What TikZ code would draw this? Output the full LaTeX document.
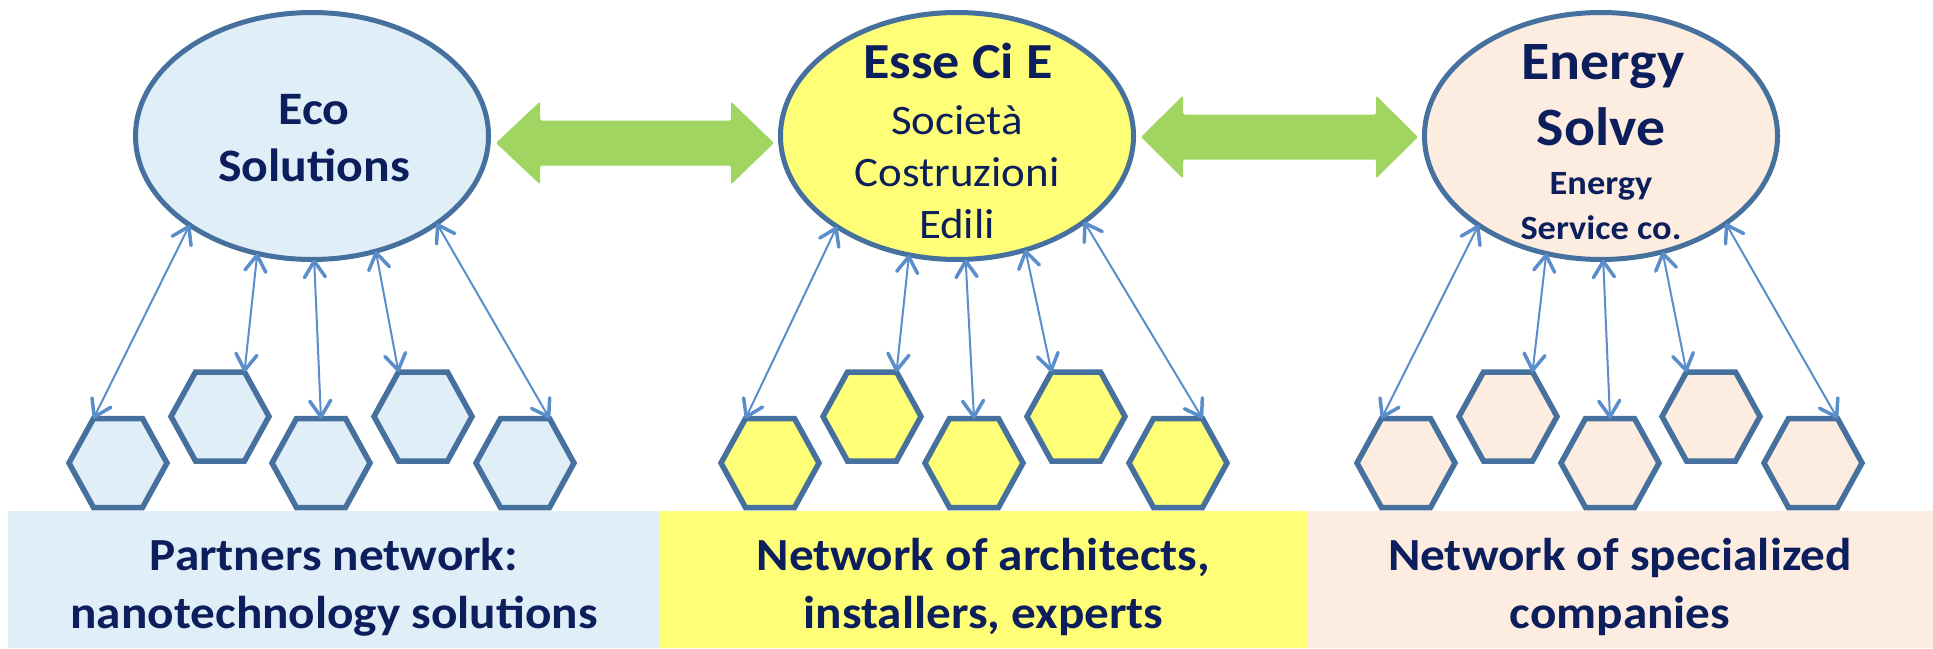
\documentclass[tikz,border=0pt]{standalone}
\usepackage{fontspec}
\setmainfont{Carlito}[FakeStretch=1.07]
\usetikzlibrary{shapes.geometric,arrows.meta}
\definecolor{ebord}{HTML}{46709D}
\definecolor{linkblue}{HTML}{5A8ECB}
\definecolor{cblue}{HTML}{DFEEF7}
\definecolor{cyellow}{HTML}{FFFF77}
\definecolor{cpeach}{HTML}{FDEDE1}
\definecolor{cgreen}{HTML}{A1D562}
\definecolor{navy}{HTML}{0C1F5C}
\newcommand{\fsz}[1]{\fontsize{#1}{#1}\selectfont}
\tikzset{
  ell/.style={ellipse, draw=ebord, line width=5pt, minimum width=353pt, minimum height=247pt, inner sep=0pt, outer sep=0pt},
  hexshape/.style={draw=ebord, line width=5.5pt, line join=miter},
  hexa/.pic={
    \path[hexshape, fill=#1] (-49,0) -- (-24.5,-44.5) -- (24.5,-44.5) -- (49,0) -- (24.5,44.5) -- (-24.5,44.5) -- cycle;
    \coordinate (-tl) at (-24.5,-44.5);
    \coordinate (-tr) at (24.5,-44.5);
    \coordinate (-t) at (0,-44.5);
  },
  link/.style={draw=linkblue, line width=2pt,
    {Straight Barb[length=16pt,width=21pt,line width=3.5pt,round]}-{Straight Barb[length=16pt,width=21pt,line width=3.5pt,round]}},
  garrow/.style={fill=cgreen, rounded corners=1.5pt},
  txt/.style={anchor=base, text=navy, inner sep=0pt, outer sep=0pt},
}
\begin{document}
\begin{tikzpicture}[x=1pt,y=-1pt]
\useasboundingbox (0,0) rectangle (1933,648);
% bands
\fill[cblue] (8,510.7) rectangle (660,648);
\fill[cyellow] (660,510.7) rectangle (1307,648);
\fill[cpeach] (1307,510.7) rectangle (1933,648);
% green double arrows
\path[garrow] (496,143) -- (540,101.5) -- (540,120.5) -- (731,120.5) -- (731,101.5) -- (774,143)
  -- (731,184.5) -- (731,165.5) -- (540,165.5) -- (540,184.5) -- cycle;
\path[garrow] (1141,137) -- (1183,95.5) -- (1183,114.5) -- (1376,114.5) -- (1376,95.5) -- (1418,137)
  -- (1376,178.5) -- (1376,159.5) -- (1183,159.5) -- (1183,178.5) -- cycle;
% ellipses
\node[ell, fill=cblue] (e1) at (312,136) {};
\node[ell, fill=cyellow] (e2) at (957,136) {};
\node[ell, fill=cpeach] (e3) at (1601,136) {};
% hexagons cluster 1
\pic (hA1) at (118,463) {hexa=cblue};
\pic (hB1) at (220,416.5) {hexa=cblue};
\pic (hC1) at (321,463) {hexa=cblue};
\pic (hD1) at (423,416.5) {hexa=cblue};
\pic (hE1) at (525,463) {hexa=cblue};
% cluster 2
\pic (hA2) at (770,463) {hexa=cyellow};
\pic (hB2) at (872,416.5) {hexa=cyellow};
\pic (hC2) at (974,463) {hexa=cyellow};
\pic (hD2) at (1076,416.5) {hexa=cyellow};
\pic (hE2) at (1178,463) {hexa=cyellow};
% cluster 3
\pic (hA3) at (1406,463) {hexa=cpeach};
\pic (hB3) at (1508,416.5) {hexa=cpeach};
\pic (hC3) at (1610,463) {hexa=cpeach};
\pic (hD3) at (1711,416.5) {hexa=cpeach};
\pic (hE3) at (1813,463) {hexa=cpeach};
% links
\draw[link] (e1.216) -- (hA1-tl);
\draw[link] (e1.245) -- (hB1-tr);
\draw[link] (e1.271) -- (hC1-t);
\draw[link] (e1.299) -- (hD1-tl);
\draw[link] (e1.325) -- (hE1-tr);
\draw[link] (e2.217) -- (hA2-tl);
\draw[link] (e2.248) -- (hB2-tr);
\draw[link] (e2.274) -- (hC2-t);
\draw[link] (e2.301) -- (hD2-tl);
\draw[link] (e2.326) -- (hE2-tr);
\draw[link] (e3.216) -- (hA3-tl);
\draw[link] (e3.245) -- (hB3-tr);
\draw[link] (e3.271) -- (hC3-t);
\draw[link] (e3.298) -- (hD3-tl);
\draw[link] (e3.325) -- (hE3-tr);
% ellipse texts
\node[txt, font=\fsz{46.5}\bfseries] (t1a) at (314,124.5) {Eco};
\node[txt, font=\fsz{46.5}\bfseries] (t1b) at (314,181.5) {Solutions};
\node[txt, font=\fsz{50.5}\bfseries] (t2a) at (958,78) {Esse Ci E};
\node[txt, font=\fsz{42}] (t2b) at (957,134) {Società};
\node[txt, font=\fsz{42}] (t2c) at (957,186) {Costruzioni};
\node[txt, font=\fsz{42}] (t2d) at (957,238) {Edili};
\node[txt, font=\fsz{54}\bfseries] (t3a) at (1603,79) {Energy};
\node[txt, font=\fsz{54}\bfseries] (t3b) at (1601,145) {Solve};
\node[txt, font=\fsz{34}\bfseries] (t3c) at (1601,194) {Energy};
\node[txt, font=\fsz{34}\bfseries] (t3d) at (1601,239) {Service co.};
% band texts
\node[txt, font=\fsz{46}\bfseries] (b1a) at (334,570) {Partners network:};
\node[txt, font=\fsz{46}\bfseries] (b1b) at (334,628) {nanotechnology solutions};
\node[txt, font=\fsz{46}\bfseries] (b2a) at (983.5,570) {Network of architects,};
\node[txt, font=\fsz{46}\bfseries] (b2b) at (983.5,628) {installers, experts};
\node[txt, font=\fsz{46}\bfseries] (b3a) at (1620,570) {Network of specialized};
\node[txt, font=\fsz{46}\bfseries] (b3b) at (1620,628) {companies};
\end{tikzpicture}
\end{document}
